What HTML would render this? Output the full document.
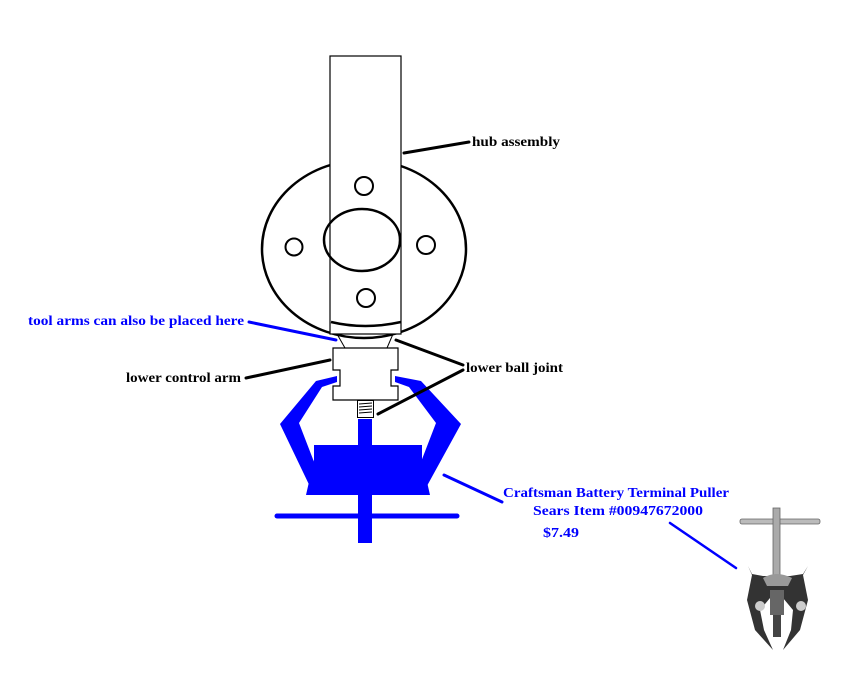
<!DOCTYPE html>
<html><head><meta charset="utf-8"><style>
html,body{margin:0;padding:0;background:#fff;}
svg{display:block}
text{font-family:"Liberation Serif",serif;font-weight:bold;font-size:14px;}
</style></head><body>
<svg width="844" height="684" viewBox="0 0 844 684" xmlns="http://www.w3.org/2000/svg">
<ellipse cx="364" cy="249" rx="102" ry="89" fill="none" stroke="#000" stroke-width="2.5"/>
<rect x="330" y="56" width="71" height="278" fill="#fff" stroke="#000" stroke-width="1.2"/>
<path d="M331,322 Q365,330 401,322" fill="none" stroke="#000" stroke-width="2.5"/>
<ellipse cx="362" cy="240" rx="38" ry="31" fill="none" stroke="#000" stroke-width="2.5"/>
<circle cx="364" cy="186" r="9" fill="none" stroke="#000" stroke-width="2"/>
<circle cx="294" cy="247" r="8.5" fill="none" stroke="#000" stroke-width="2"/>
<circle cx="426" cy="245" r="9" fill="none" stroke="#000" stroke-width="2"/>
<circle cx="366" cy="298" r="9" fill="none" stroke="#000" stroke-width="2"/>
<line x1="337" y1="334" x2="345" y2="348" stroke="#000" stroke-width="1"/>
<line x1="393" y1="334" x2="387" y2="348" stroke="#000" stroke-width="1"/>
<path d="M333,348 H398 V370 H391 V386 H398 V400 H333 V386 H340 V370 H333 Z" fill="#fff" stroke="#000" stroke-width="1.2"/>
<rect x="357.5" y="400.5" width="16" height="17" fill="#fff" stroke="#000" stroke-width="1"/>
<g stroke="#000" stroke-width="1"><line x1="359" y1="404" x2="372" y2="403"/><line x1="359" y1="407" x2="372" y2="406"/><line x1="359" y1="410" x2="372" y2="409"/><line x1="359" y1="413" x2="372" y2="412"/></g>
<g fill="#0000ff" stroke="none">
<rect x="358" y="419" width="14" height="124"/>
<polygon points="314,445 422,445 422,495 314,495"/>
<polygon points="337,376 337,382 322,387 299,423 321,480 314,495 280,424 316,381"/>
<polygon points="395,376 395,382 409,387 436,423 414,480 422,495 461,424 421,381"/>
<polygon points="314,460 422,460 430,495 306,495"/>
</g>
<line x1="277" y1="516" x2="457" y2="516" stroke="#0000ff" stroke-width="5" stroke-linecap="round"/>
<g stroke-width="3" stroke-linecap="round">
<line x1="404" y1="153" x2="469" y2="142" stroke="#000"/>
<line x1="249" y1="322" x2="336" y2="340" stroke="#0000ff"/>
<line x1="246" y1="378" x2="330" y2="360" stroke="#000"/>
<line x1="396" y1="340" x2="463" y2="365" stroke="#000"/>
<line x1="378" y1="414" x2="463" y2="370" stroke="#000"/>
<line x1="444" y1="475" x2="502" y2="502" stroke="#0000ff"/>
<line x1="670" y1="523" x2="736" y2="568" stroke="#0000ff" stroke-width="2.5"/>
</g>
<text x="472" y="146" fill="#000" textLength="88" lengthAdjust="spacingAndGlyphs">hub assembly</text>
<text x="28" y="325" fill="#0000ff" textLength="216" lengthAdjust="spacingAndGlyphs">tool arms can also be placed here</text>
<text x="126" y="382" fill="#000" textLength="115" lengthAdjust="spacingAndGlyphs">lower control arm</text>
<text x="466" y="372" fill="#000" textLength="97" lengthAdjust="spacingAndGlyphs">lower ball joint</text>
<text x="503" y="497" fill="#0000ff" textLength="226" lengthAdjust="spacingAndGlyphs">Craftsman Battery Terminal Puller</text>
<text x="533" y="515" fill="#0000ff" textLength="170" lengthAdjust="spacingAndGlyphs">Sears Item #00947672000</text>
<text x="543" y="537" fill="#0000ff" textLength="36" lengthAdjust="spacingAndGlyphs">$7.49</text>
<g>
<rect x="740" y="519" width="80" height="5" rx="2" fill="#bbb" stroke="#666" stroke-width="0.8"/>
<rect x="773" y="508" width="7" height="80" fill="#aaa" stroke="#666" stroke-width="0.8"/>
<path d="M748,566 L752,575 L747,600 L755,630 L773,650 L764,630 L760,610 L770,598 L783,598 L793,610 L791,630 L783,650 L800,630 L808,600 L803,575 L808,566 L803,574 L790,576 L776,576 L763,576 L752,574 Z" fill="#333"/>
<path d="M763,578 Q776,570 792,578 L788,586 L767,586 Z" fill="#999"/>
<rect x="770" y="590" width="14" height="25" fill="#666"/>
<rect x="773" y="615" width="8" height="22" fill="#444"/>
<circle cx="760" cy="606" r="5" fill="#ccc"/>
<circle cx="801" cy="606" r="5" fill="#ccc"/>
</g>
</svg>
</body></html>
